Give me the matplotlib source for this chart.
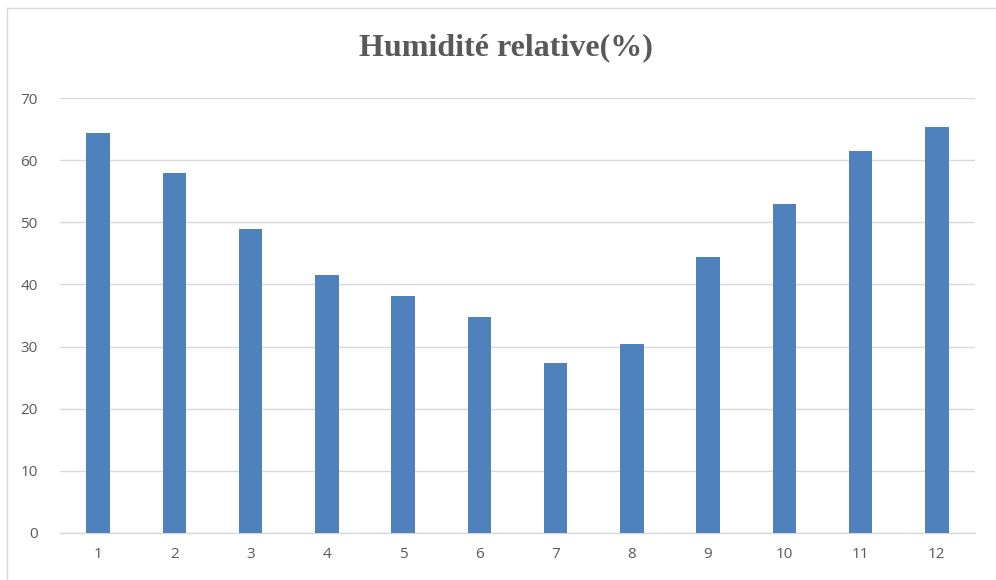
import matplotlib
matplotlib.use("Agg")
import matplotlib.pyplot as plt
from matplotlib.lines import Line2D

months = [1, 2, 3, 4, 5, 6, 7, 8, 9, 10, 11, 12]
humidity = [64.3, 58.0, 49.0, 41.5, 38.1, 34.8, 27.4, 30.4, 44.4, 52.9, 61.5, 65.3]
yticks = [0, 10, 20, 30, 40, 50, 60, 70]
title = "Humidité relative(%)"

W, H = 996, 580
fig = plt.figure(figsize=(W/100, H/100), dpi=100)
fig.patch.set_facecolor("white")

# chart area border (top and left edges visible)
fig.lines.append(Line2D([6.5/W, 6.5/W], [0, 1-8/H], transform=fig.transFigure,
                        color="#D9D9D9", linewidth=1.0))
fig.lines.append(Line2D([6.5/W, 1], [1-8/H, 1-8/H], transform=fig.transFigure,
                        color="#D9D9D9", linewidth=1.0))

left, right, top, bottom = 60, 975, 98, 533
ax = fig.add_axes([left/W, 1-bottom/H, (right-left)/W, (bottom-top)/H])
ax.bar(months, humidity, width=0.31, color="#4F81BD", zorder=3)
ax.set_xlim(0.5, 12.5)
ax.set_ylim(0, 70)
ax.set_yticks(yticks)
ax.set_xticks(months)
ax.grid(axis="y", color="#D9D9D9", linewidth=1.0, zorder=0)
for s in ["top", "right", "left"]:
    ax.spines[s].set_visible(False)
ax.spines["bottom"].set_color("#D9D9D9")
ax.spines["bottom"].set_linewidth(1.0)
ax.tick_params(axis="both", length=0, labelsize=11, labelcolor="#595959")
ax.tick_params(axis="y", pad=16)
ax.tick_params(axis="x", pad=10)
for lab in ax.get_xticklabels() + ax.get_yticklabels():
    lab.set_fontfamily("Open Sans")

fig.text(506/W, 1-48/H, title, ha="center", va="center", fontsize=23,
         fontweight="bold", color="#595959", fontfamily="Liberation Serif")

fig.savefig("out.png", dpi=100, facecolor="white")
